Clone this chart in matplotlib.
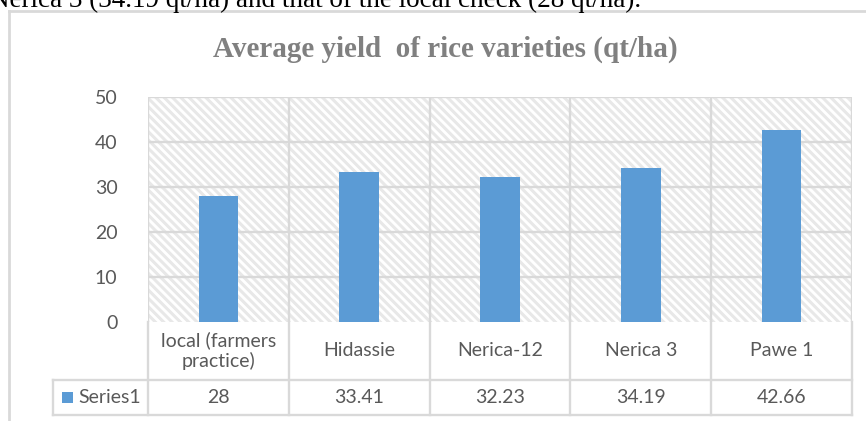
#!/usr/bin/env python3
import matplotlib
matplotlib.use("Agg")
import matplotlib.pyplot as plt
import matplotlib.transforms as mtransforms
from matplotlib.patches import Rectangle
from matplotlib.lines import Line2D
import numpy as np

# Chart data
categories = ["local (farmers\npractice)", "Hidassie", "Nerica-12", "Nerica 3", "Pawe 1"]
series_name = "Series1"
yields = [28, 33.41, 32.23, 34.19, 42.66]
value_labels = ["28", "33.41", "32.23", "34.19", "42.66"]
yticks = [0, 10, 20, 30, 40, 50]
title = "Average yield  of rice varieties (qt/ha)"
caption = "Nerica 3 (34.19 qt/ha) and that of the local check (28 qt/ha)."

W, H = 866, 421
bar_color = "#5B9BD5"
grid_color = "#D9D9D9"
text_color = "#595959"
sans = ["Lato", "DejaVu Sans"]

plt.rcParams["hatch.linewidth"] = 2.2
plt.rcParams["hatch.color"] = "#E8E8E8"

fig = plt.figure(figsize=(W / 100, H / 100), dpi=100)

def fx(px):
    return px / W

def fy(py):
    return 1 - py / H

# plot area in pixels
left, right, top, bottom = 148, 852, 97, 322
ax = fig.add_axes([fx(left), fy(bottom), fx(right - left), (bottom - top) / H])

x = np.arange(len(categories))
ax.set_xlim(-0.5, len(categories) - 0.5)
ax.set_ylim(0, 50)

# hatched background
ax.add_patch(Rectangle((0, 0), 1, 1, transform=ax.transAxes, facecolor="white",
                       edgecolor="#E8E8E8", hatch="\\\\\\\\", linewidth=0, zorder=0))

ax.bar(x, yields, width=0.28, color=bar_color, zorder=3)

# gridlines
for t in yticks[1:]:
    ax.axhline(t, color=grid_color, linewidth=1.7, zorder=2)
for b in np.arange(-0.5, len(categories), 1.0):
    ax.axvline(b, color=grid_color, linewidth=1.7, zorder=2)

for s in ax.spines.values():
    s.set_visible(False)
ax.set_xticks([])
ax.set_yticks(yticks)
ax.set_yticklabels([str(t) for t in yticks], fontsize=14, color=text_color, family=sans)
ax.tick_params(axis="y", length=0, pad=22)

# data table below the plot
ph = bottom - top
row1 = -(380 - bottom) / ph
row2 = -(415 - bottom) / ph
series_left = -0.5 - (left - 53) / ((right - left) / len(categories))
trans = mtransforms.blended_transform_factory(ax.transData, ax.transAxes)
lk = dict(color=grid_color, linewidth=1.7, transform=trans, clip_on=False, zorder=2)
for b in np.arange(-0.5, len(categories), 1.0):
    ax.plot([b, b], [0, row2], **lk)
ax.plot([series_left, series_left], [row1, row2], **lk)
ax.plot([series_left, len(categories) - 0.5], [row1, row1], **lk)
ax.plot([series_left, len(categories) - 0.5], [row2, row2], **lk)

for i, (c, v) in enumerate(zip(categories, value_labels)):
    ax.text(i, row1 / 2, c, transform=trans, ha="center", va="center",
            fontsize=14, color=text_color, family=sans, linespacing=1.2)
    ax.text(i, (row1 + row2) / 2, v, transform=trans, ha="center", va="center",
            fontsize=14, color=text_color, family=sans)

# legend key in the table
fig.add_artist(Rectangle((fx(62), fy(403)), fx(11), 11 / H, transform=fig.transFigure,
                         facecolor=bar_color, edgecolor="none"))
fig.text(fx(78), fy(397.5), series_name, ha="left", va="center",
         fontsize=14, color=text_color, family=sans)

# title and cropped caption
fig.text(fx(445), fy(57), title, ha="center", va="baseline", fontsize=21,
         fontweight="bold", color="#808080", family=["Liberation Serif", "DejaVu Serif"])
fig.text(fx(-10), fy(7), caption, ha="left", va="baseline", fontsize=19.5,
         color="black", family=["Liberation Serif", "DejaVu Serif"])

# outer chart border
fig.add_artist(Line2D([fx(8.5), fx(870)], [fy(11), fy(11)], color=grid_color,
                      linewidth=2, transform=fig.transFigure))
fig.add_artist(Line2D([fx(8.5), fx(8.5)], [fy(11), fy(430)], color=grid_color,
                      linewidth=2, transform=fig.transFigure))

fig.savefig("out.png", dpi=100)
